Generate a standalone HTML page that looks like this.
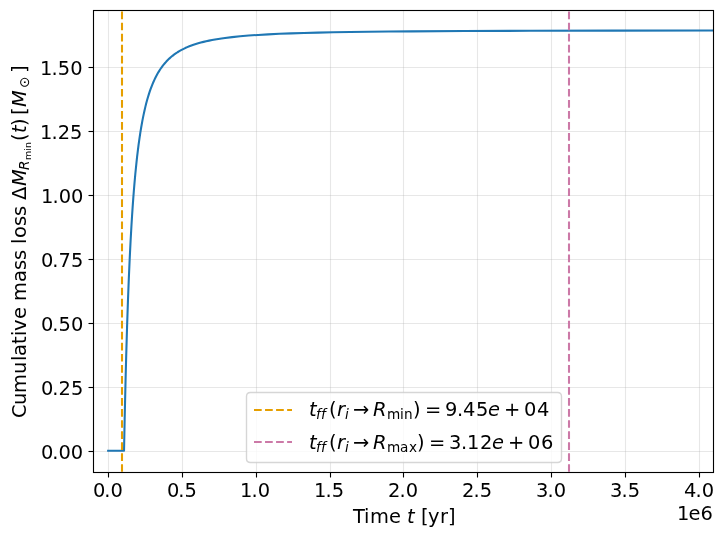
<!DOCTYPE html>
<html lang="en"><head><meta charset="utf-8"><title>Cumulative mass loss</title>
<style>html,body{margin:0;padding:0;background:#fff}svg{display:block}text{font-family:"DejaVu Sans","Liberation Sans",sans-serif;fill:#000;white-space:pre}.i{font-style:oblique}</style></head><body>
<svg width="724" height="539" viewBox="0 0 724 539" xml:space="preserve">
<rect width="724" height="539" fill="#fff"/>
<defs><clipPath id="c"><rect x="93.388" y="9.722" width="620" height="462"/></clipPath></defs>
<g stroke="#b0b0b0" stroke-opacity="0.3" stroke-width="1.111" clip-path="url(#c)">
<path d="M108.5 472.5V10.5"/>
<path d="M182.5 472.5V10.5"/>
<path d="M256.5 472.5V10.5"/>
<path d="M330.5 472.5V10.5"/>
<path d="M403.5 472.5V10.5"/>
<path d="M477.5 472.5V10.5"/>
<path d="M551.5 472.5V10.5"/>
<path d="M625.5 472.5V10.5"/>
<path d="M699.5 472.5V10.5"/>
<path d="M93.5 451.5H713.5"/>
<path d="M93.5 387.5H713.5"/>
<path d="M93.5 323.5H713.5"/>
<path d="M93.5 259.5H713.5"/>
<path d="M93.5 195.5H713.5"/>
<path d="M93.5 131.5H713.5"/>
<path d="M93.5 67.5H713.5"/>
</g>
<g clip-path="url(#c)" fill="none">
<path d="M108.15 450.722L124.033 450.722L124.683 418.33L125.569 379.864L126.159 357.311L127.045 327.364L127.931 301.348L128.816 278.606L129.702 258.609L130.588 240.933L131.473 225.232L132.064 215.72L132.654 206.887L133.245 198.671L133.835 191.014L134.426 183.868L135.312 174.01L136.493 162.276L137.083 156.941L137.969 149.524L138.559 144.935L139.445 138.533L140.331 132.652L141.216 127.237L142.397 120.661L142.988 117.62L143.873 113.34L144.464 110.658L145.35 106.873L146.235 103.348L147.121 100.061L148.007 96.991L148.893 94.119L149.778 91.428L150.664 88.904L151.55 86.533L152.435 84.302L153.321 82.201L154.502 79.586L155.388 77.751L156.569 75.46L157.75 73.331L158.931 71.349L160.112 69.5L161.293 67.773L162.473 66.157L163.654 64.644L164.835 63.224L166.312 61.569L167.788 60.035L169.264 58.612L170.74 57.288L172.512 55.818L173.988 54.682L175.759 53.416L177.531 52.246L179.302 51.162L181.073 50.157L183.14 49.072L185.207 48.074L187.273 47.152L189.34 46.301L191.407 45.512L193.473 44.779L195.835 44.005L198.197 43.29L200.854 42.551L203.512 41.873L206.169 41.249L209.121 40.612L212.073 40.029L215.026 39.494L218.273 38.954L221.521 38.46L225.064 37.968L232.15 37.106L240.121 36.298L248.683 35.578L258.131 34.923L268.169 34.349L279.388 33.824L291.197 33.372L303.893 32.975L317.769 32.621L333.121 32.302L349.95 32.021L368.55 31.771L388.921 31.552L411.654 31.358L464.502 31.042L530.045 30.802L612.712 30.623L718.112 30.491" stroke="#1f77b4" stroke-width="2.083" stroke-linejoin="round" stroke-linecap="square"/>
<path d="M122 472V10" stroke="#e69f00" stroke-width="2.083" stroke-dasharray="7.708 3.333"/>
<path d="M569 472V10" stroke="#cc79a7" stroke-width="2.083" stroke-dasharray="7.708 3.333"/>
</g>
<g stroke="#000" stroke-width="1.111">
<path d="M108.5 472.5v5"/>
<path d="M182.5 472.5v5"/>
<path d="M256.5 472.5v5"/>
<path d="M330.5 472.5v5"/>
<path d="M403.5 472.5v5"/>
<path d="M477.5 472.5v5"/>
<path d="M551.5 472.5v5"/>
<path d="M625.5 472.5v5"/>
<path d="M699.5 472.5v5"/>
<path d="M93.5 451.5h-5"/>
<path d="M93.5 387.5h-5"/>
<path d="M93.5 323.5h-5"/>
<path d="M93.5 259.5h-5"/>
<path d="M93.5 195.5h-5"/>
<path d="M93.5 131.5h-5"/>
<path d="M93.5 67.5h-5"/>
</g>
<rect x="93.5" y="10.5" width="620" height="462" fill="none" stroke="#000" stroke-width="1.111" stroke-linejoin="miter"/>
<path d="M250.5 462.5L557.5 462.5Q561.5 462.5 561.5 458.5L561.5 396.5Q561.5 392.5 557.5 392.5L250.5 392.5Q246.5 392.5 246.5 396.5L246.5 458.5Q246.5 462.5 250.5 462.5Z" fill="#fff" fill-opacity="0.8" stroke="#ccc" stroke-opacity="0.8" stroke-width="1.389" stroke-linejoin="miter"/>
<path d="M254 410H292" fill="none" stroke="#e69f00" stroke-width="2.083" stroke-dasharray="7.708 3.333"/>
<path d="M254 442H292" fill="none" stroke="#cc79a7" stroke-width="2.083" stroke-dasharray="7.708 3.333"/>
<text x="93 104.25 110.5" y="497" font-size="19.444">0.0</text>
<text x="167 178.25 184.5" y="497" font-size="19.444">0.5</text>
<text x="240 251.375 257.625" y="497" font-size="19.444">1.0</text>
<text x="314 325.375 331.625" y="497" font-size="19.444">1.5</text>
<text x="388 399.375 405.625" y="497" font-size="19.444">2.0</text>
<text x="462 473.375 479.625" y="497" font-size="19.444">2.5</text>
<text x="536 547.375 553.625" y="497" font-size="19.444">3.0</text>
<text x="610 621.375 627.625" y="497" font-size="19.444">3.5</text>
<text x="684 695.375 701.625" y="497" font-size="19.444">4.0</text>
<text transform="translate(352 523)"><tspan x="1 12 18 37 49" y="0" font-size="19.444">Time </tspan><tspan class="i" x="55" y="0" font-size="19.444">t</tspan><tspan x="63 69 76 88 96" y="0" font-size="19.444"> [yr]</tspan></text>
<text x="677 688.375 700.375" y="520" font-size="19.444">1e6</text>
<text x="41 52.25 58.5 70.75" y="459" font-size="19.444">0.00</text>
<text x="41 52.25 58.5 70.875" y="395" font-size="19.444">0.25</text>
<text x="41 52.25 58.5 71" y="331" font-size="19.444">0.50</text>
<text x="41 52.25 58.5 70.875" y="267" font-size="19.444">0.75</text>
<text x="41 52.375 58.625 70.875" y="203" font-size="19.444">1.00</text>
<text x="40 51.375 57.625 70" y="139" font-size="19.444">1.25</text>
<text x="40 51.375 57.625 70.125" y="75" font-size="19.444">1.50</text>
<text transform="translate(26 419) rotate(-90)"><tspan x="1 14 26 45 58 63 75 83 88 100 112 118 137 149 159 169 175 181 193 203 213 219" y="0" font-size="19.444">Cumulative mass loss Δ</tspan><tspan class="i" x="233" y="0" font-size="19.444">M</tspan><tspan class="i" x="249" y="3" font-size="13.611">R</tspan><tspan x="259 268 271" y="5" font-size="9.528">min</tspan><tspan x="278" y="0" font-size="19.444">(</tspan><tspan class="i" x="286" y="0" font-size="19.444">t</tspan><tspan x="293 304" y="0" font-size="19.444">)[</tspan><tspan class="i" x="312" y="0" font-size="19.444">M</tspan><tspan x="331" y="3" font-size="13.611">⊙</tspan><tspan x="346" y="0" font-size="19.444">]</tspan></text>
<text transform="translate(308 416)"><tspan class="i" x="1" y="0" font-size="19.444">t</tspan><tspan class="i" x="8 13" y="3" font-size="13.611">ff</tspan><tspan x="21" y="0" font-size="19.444">(</tspan><tspan class="i" x="29" y="0" font-size="19.444">r</tspan><tspan class="i" x="37" y="3" font-size="13.611">i</tspan><tspan x="45" y="0" font-size="19.444">→</tspan><tspan class="i" x="65" y="0" font-size="19.444">R</tspan><tspan x="79 92 96" y="3" font-size="13.611">min</tspan><tspan x="105 117 137 149 155 168" y="0" font-size="19.444">)=9.45</tspan><tspan class="i" x="180" y="0" font-size="19.444">e</tspan><tspan x="196 216 229" y="0" font-size="19.444">+04</tspan></text>
<text transform="translate(308 449)"><tspan class="i" x="1" y="0" font-size="19.444">t</tspan><tspan class="i" x="8 13" y="3" font-size="13.611">ff</tspan><tspan x="21" y="0" font-size="19.444">(</tspan><tspan class="i" x="29" y="0" font-size="19.444">r</tspan><tspan class="i" x="37" y="3" font-size="13.611">i</tspan><tspan x="45" y="0" font-size="19.444">→</tspan><tspan class="i" x="65" y="0" font-size="19.444">R</tspan><tspan x="79 92 101" y="3" font-size="13.611">max</tspan><tspan x="109 121 141 153 159 172" y="0" font-size="19.444">)=3.12</tspan><tspan class="i" x="184" y="0" font-size="19.444">e</tspan><tspan x="200 220 233" y="0" font-size="19.444">+06</tspan></text>
</svg></body></html>
